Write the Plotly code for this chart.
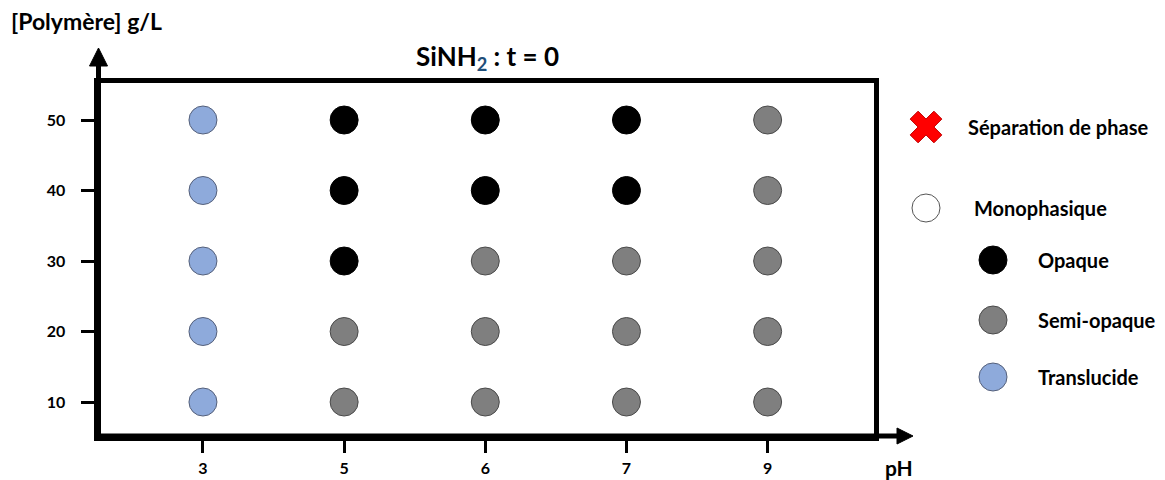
import plotly.graph_objects as go

# donnees
ph = ["3", "5", "6", "7", "9"]
conc = [10, 20, 30, 40, 50]
# etat par pH (colonne) puis concentration 10 -> 50
etat = [
    ["T", "T", "T", "T", "T"],
    ["S", "S", "O", "O", "O"],
    ["S", "S", "S", "O", "O"],
    ["S", "S", "S", "O", "O"],
    ["S", "S", "S", "S", "S"],
]
legende = ["Séparation de phase", "Monophasique", "Opaque", "Semi-opaque", "Translucide"]

styles = {
    "O": dict(color="#000000", line=dict(color="#000000", width=1)),
    "S": dict(color="#7f7f7f", line=dict(color="#4a4a4a", width=1)),
    "T": dict(color="#8eaadb", line=dict(color="#55607a", width=1)),
}

# la page ajoute une marge de 8px en haut a gauche de la figure
M = 8
W, H = 1165 - M, 480 - M
font = "Lato"

def px_x(p):
    return (p - M) / W

def px_y(p):
    return 1 - (p - M) / H

fig = go.Figure()

for code in ["T", "S", "O"]:
    xs, ys = [], []
    for i, p in enumerate(ph):
        for j, c in enumerate(conc):
            if etat[i][j] == code:
                xs.append(p)
                ys.append(c)
    fig.add_trace(go.Scatter(x=xs, y=ys, mode="markers", showlegend=False,
                             marker=dict(size=28, **styles[code]), hoverinfo="skip"))

# legende dessinee a la main (axes en pixels de l'ecran)
leg_x = [926, 926, 993, 993, 993]
leg_y = [127, 208, 260, 320, 377]
leg_txt_x = [966, 972, 1036, 1036, 1036]
fig.add_trace(go.Scatter(x=[leg_x[0]], y=[leg_y[0]], xaxis="x2", yaxis="y2", mode="markers",
                         showlegend=False, hoverinfo="skip",
                         marker=dict(symbol="x", size=28, color="#ff0000",
                                     line=dict(color="#c00000", width=1))))
fig.add_trace(go.Scatter(x=[leg_x[1]], y=[leg_y[1]], xaxis="x2", yaxis="y2", mode="markers",
                         showlegend=False, hoverinfo="skip",
                         marker=dict(size=28, color="white", line=dict(color="#555555", width=1))))
for k, code in enumerate(["O", "S", "T"]):
    fig.add_trace(go.Scatter(x=[leg_x[k + 2]], y=[leg_y[k + 2]], xaxis="x2", yaxis="y2",
                             mode="markers", showlegend=False, hoverinfo="skip",
                             marker=dict(size=28, **styles[code])))

annots = []
for k, t in enumerate(legende):
    annots.append(dict(x=leg_txt_x[k], y=leg_y[k], xref="x2", yref="y2", text=t, showarrow=False,
                       xanchor="left", yanchor="middle",
                       font=dict(family=font, size=20, color="black", weight="bold")))
annots.append(dict(x=9, y=21, xref="x2", yref="y2", text="[Polymère] g/L", showarrow=False,
                   xanchor="left", yanchor="middle",
                   font=dict(family=font, size=23, color="black", weight="bold")))
annots.append(dict(x=487, y=57, xref="x2", yref="y2",
                   text="SiNH<sub><span style='color:#1f4e79'>2</span></sub> : t = 0",
                   showarrow=False, xanchor="center", yanchor="middle",
                   font=dict(family=font, size=26, color="black", weight="bold")))
annots.append(dict(x=899, y=467, xref="x2", yref="y2", text="pH", showarrow=False,
                   xanchor="center", yanchor="middle",
                   font=dict(family=font, size=21, color="black", weight="bold")))

# fleches des axes
shapes = [
    dict(type="line", xref="x2", yref="y2", x0=98.5, y0=436, x1=98.5, y1=64,
         line=dict(color="black", width=5)),
    dict(type="path", xref="x2", yref="y2", path="M 89.5 66 L 98.5 48 L 107.5 66 Z",
         fillcolor="black", line=dict(color="black", width=1)),
    dict(type="line", xref="x2", yref="y2", x0=98.5, y0=436, x1=899, y1=436,
         line=dict(color="black", width=5)),
    dict(type="path", xref="x2", yref="y2", path="M 897 428 L 913 436 L 897 444 Z",
         fillcolor="black", line=dict(color="black", width=1)),
]

tickfont = dict(family=font, size=16, color="black", weight="bold")
fig.update_layout(
    width=W, height=H,
    margin=dict(l=0, r=0, t=0, b=0, autoexpand=False),
    paper_bgcolor="white", plot_bgcolor="rgba(0,0,0,0)",
    annotations=annots, shapes=shapes,
    xaxis=dict(domain=[px_x(98.5), px_x(873.5)], type="category", range=[-0.74, 4.75],
               automargin=False,
               showgrid=False, zeroline=False, showline=True, mirror=True,
               linecolor="black", linewidth=5, ticks="outside", ticklen=12, tickwidth=3,
               tickcolor="black", tickfont=tickfont, ticklabelstandoff=2),
    yaxis=dict(domain=[px_y(436), px_y(83)], range=[5.18, 55.25], automargin=False,
               tickvals=conc, showgrid=False, zeroline=False, showline=True, mirror=True,
               linecolor="black", linewidth=5, ticks="outside", ticklen=13, tickwidth=3,
               tickcolor="black", tickfont=tickfont, ticklabelstandoff=12),
    xaxis2=dict(domain=[0, 1], range=[M, M + W], visible=False, anchor="y2", automargin=False),
    yaxis2=dict(domain=[0, 1], range=[M + H, M], visible=False, anchor="x2", automargin=False),
)

fig.write_html("out.html")
